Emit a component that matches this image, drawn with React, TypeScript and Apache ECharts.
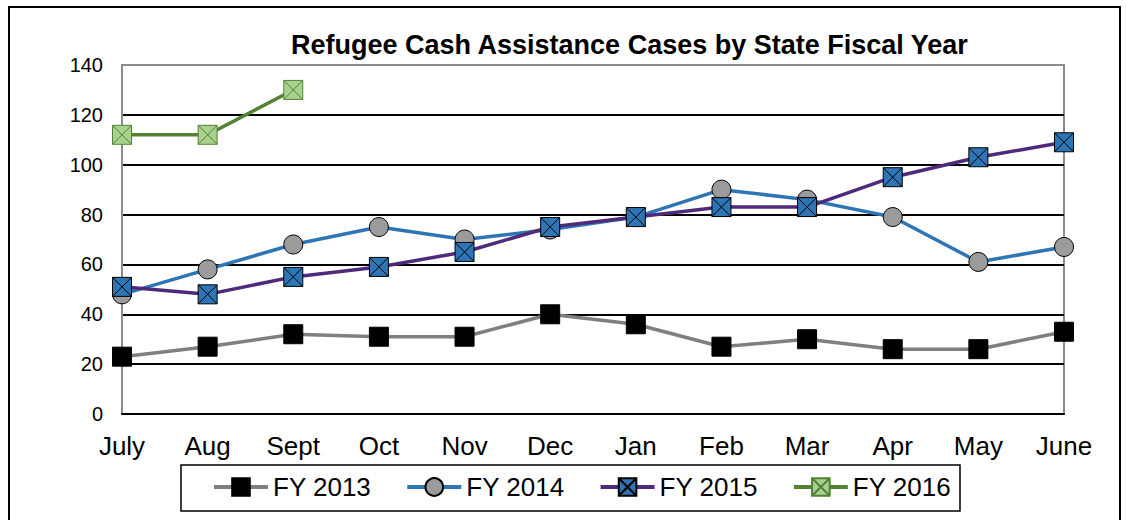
import React, { useEffect, useRef } from "react";
import * as echarts from "echarts";

const months = ["July", "Aug", "Sept", "Oct", "Nov", "Dec", "Jan", "Feb", "Mar", "Apr", "May", "June"];
const fy2013 = [23, 27, 32, 31, 31, 40, 36, 27, 30, 26, 26, 33];
const fy2014 = [48, 58, 68, 75, 70, 74, 79, 90, 86, 79, 61, 67];
const fy2015 = [51, 48, 55, 59, 65, 75, 79, 83, 83, 95, 103, 109];
const fy2016 = [112, 112, 130];
const seriesNames = ["FY 2013", "FY 2014", "FY 2015", "FY 2016"];

const FONT = "'Liberation Sans', Arial, sans-serif";
const XSQ = "path://M0 0H20V20H0Z M0 0L20 20 M20 0L0 20";

export default function App() {
  const ref = useRef<HTMLDivElement>(null);
  useEffect(() => {
    if (!ref.current) return;
    const chart = echarts.init(ref.current, undefined, { renderer: "svg" });
    chart.setOption({
      animation: false,
      backgroundColor: "#ffffff",
      title: {
        text: "Refugee Cash Assistance Cases by State Fiscal Year",
        left: 291,
        top: 31,
        padding: 0,
        textStyle: { fontFamily: FONT, fontSize: 27, fontWeight: "bold", color: "#000" },
      },
      graphic: [
        {
          type: "rect",
          shape: { x: 9, y: 7, width: 1111, height: 530 },
          style: { fill: "none", stroke: "#000", lineWidth: 2 },
          z: -10,
        },
        {
          type: "rect",
          shape: { x: 181, y: 465, width: 779, height: 46 },
          style: { fill: "none", stroke: "#000", lineWidth: 1.5 },
          z: -10,
        },
      ],
      legend: {
        data: seriesNames,
        left: 212,
        top: 474,
        padding: 0,
        itemWidth: 54,
        itemHeight: 22,
        itemGap: 34,
        lineStyle: { width: 4 },
        textStyle: { fontFamily: FONT, fontSize: 26, color: "#000", padding: [0, 0, 0, 0] },
      },
      grid: {
        left: 122,
        right: 62,
        top: 65,
        bottom: 106,
        show: true,
        borderColor: "#8c8c8c",
        borderWidth: 2,
        backgroundColor: "transparent",
      },
      xAxis: {
        type: "category",
        data: months,
        boundaryGap: false,
        axisLine: { lineStyle: { color: "#000", width: 2 } },
        axisTick: { show: false },
        axisLabel: { fontFamily: FONT, fontSize: 26, color: "#000", margin: 19 },
        splitLine: { show: false },
      },
      yAxis: {
        type: "value",
        min: 0,
        max: 140,
        interval: 20,
        axisLine: { show: true, lineStyle: { color: "#8c8c8c", width: 2 } },
        axisTick: { show: false },
        axisLabel: { fontFamily: FONT, fontSize: 20, color: "#000", margin: 19 },
        splitLine: { show: true, showMaxLine: false, lineStyle: { color: "#000", width: 2 } },
      },
      series: [
        {
          name: seriesNames[0],
          type: "line",
          data: fy2013,
          symbol: "rect",
          symbolSize: 19,
          lineStyle: { color: "#7f7f7f", width: 3.5 },
          itemStyle: { color: "#000", borderColor: "#000", borderWidth: 1 },
        },
        {
          name: seriesNames[1],
          type: "line",
          data: fy2014,
          symbol: "circle",
          symbolSize: 19,
          lineStyle: { color: "#2e75b6", width: 3.5 },
          itemStyle: { color: "#9b9b9b", borderColor: "#000", borderWidth: 1 },
        },
        {
          name: seriesNames[2],
          type: "line",
          data: fy2015,
          symbol: XSQ,
          symbolSize: 19,
          lineStyle: { color: "#4f2a7a", width: 3.5 },
          itemStyle: { color: "#2e75b6", borderColor: "#000", borderWidth: 1 },
        },
        {
          name: seriesNames[3],
          type: "line",
          data: fy2016,
          symbol: XSQ,
          symbolSize: 19,
          lineStyle: { color: "#548235", width: 3.5 },
          itemStyle: { color: "#a9d18e", borderColor: "#548235", borderWidth: 1 },
        },
      ],
    });
    return () => chart.dispose();
  }, []);
  return (
    <div
      ref={ref}
      style={{ position: "fixed", left: 0, top: 0, width: 1126, height: 520 }}
    />
  );
}
